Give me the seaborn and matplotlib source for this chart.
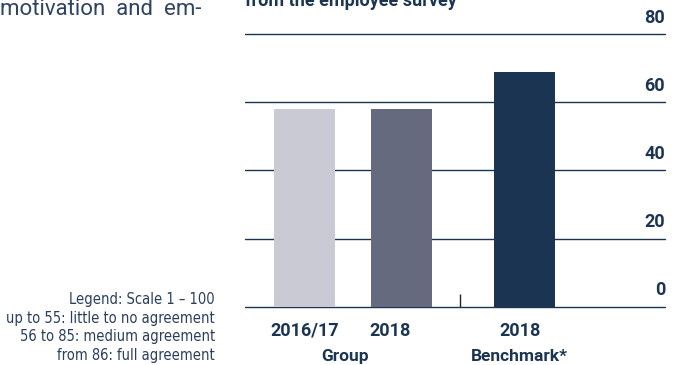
import matplotlib
matplotlib.use("Agg")
import matplotlib.pyplot as plt
from matplotlib import font_manager
import seaborn as sns
import pandas as pd

# Employee survey results (scale 1-100)
bar_keys = ["Group 2016/17", "Group 2018", "Benchmark 2018"]
values = [58, 58, 69]
year_labels = ["2016/17", "2018", "2018"]
group_labels = ["Group", "Benchmark*"]
y_ticks = [0, 20, 40, 60, 80]
legend_lines = [
    "Legend: Scale 1 – 100",
    "up to 55: little to no agreement",
    "56 to 85: medium agreement",
    "from 86: full agreement",
]
intro_text = "motivation  and  em-"
title_text = "from the employee survey"

NAVY = "#1b3451"
colors = ["#c9cad3", "#656a7f", "#1b3451"]

# horizontal layout of the bars (Benchmark sits apart from the Group pair)
bar_pos = [0.0, 1.0, 2.27]

df = pd.DataFrame({"pos": bar_pos, "key": bar_keys, "value": values})

sns.set_theme(style="white")
plt.rcParams["font.family"] = ["Roboto", "DejaVu Sans"]

fig = plt.figure(figsize=(6.8, 3.65), dpi=100)
ax = fig.add_axes([245 / 680, 58.5 / 365, 420 / 680, 272 / 365])

sns.barplot(data=df, x="pos", y="value", hue="key", palette=colors,
            native_scale=True, dodge=False, width=0.63, legend=False,
            saturation=1, ax=ax, errorbar=None, linewidth=0)

ax.set_xlim(-0.613, 3.716)
ax.set_ylim(0, 80)
ax.set_yticks(y_ticks)
ax.set_yticklabels([])
ax.tick_params(axis="y", length=0)
ax.yaxis.grid(True, color=NAVY, linewidth=1.0)
ax.set_axisbelow(True)
for gl in ax.get_ygridlines():
    gl.set_clip_on(False)
for s in ax.spines.values():
    s.set_visible(False)
ax.set_xlabel("")
ax.set_ylabel("")

# small separator tick between Group and Benchmark
ax.set_xticks([1.603])
ax.set_xticklabels([""])
ax.tick_params(axis="x", direction="in", length=9.4, width=1.0,
               color="#222222", bottom=True)

# y value labels sit above their gridlines, right-aligned
for v in y_ticks:
    ax.annotate(str(v), xy=(1.0, v), xycoords=("axes fraction", "data"),
                xytext=(0, 8), textcoords="offset points",
                ha="right", va="baseline", fontsize=13, fontweight="bold",
                color=NAVY, annotation_clip=False)

# category labels under the bars
year_x = [0.0, 0.88, 2.22]
for x, lab in zip(year_x, year_labels):
    ax.annotate(lab, xy=(x, 0), xycoords=("data", "axes fraction"),
                xytext=(0, -21.2), textcoords="offset points",
                ha="center", va="baseline", fontsize=13, fontweight="bold",
                color=NAVY, annotation_clip=False)
group_x = [0.42, 2.22]
for x, lab in zip(group_x, group_labels):
    ax.annotate(lab, xy=(x, 0), xycoords=("data", "axes fraction"),
                xytext=(0, -39.2), textcoords="offset points",
                ha="center", va="baseline", fontsize=12.5, fontweight="bold",
                color=NAVY, annotation_clip=False)

# surrounding page text
fig.text(0 / 680, 1 - 15 / 365, intro_text, ha="left", va="baseline",
         fontsize=16, color="#2f4461")
fig.text(245 / 680, 1 - 5.5 / 365, title_text, ha="left", va="baseline",
         fontsize=13, fontweight="bold", color=NAVY)

# scale legend, right-aligned narrow text
narrow = font_manager.FontProperties(family="DejaVu Sans", stretch="condensed",
                                     size=10.5)
try:
    font_manager.findfont(font_manager.FontProperties(family="Liberation Sans Narrow"),
                          fallback_to_default=False)
    narrow = font_manager.FontProperties(family="Liberation Sans Narrow", size=11.2)
except ValueError:
    pass
for i, line in enumerate(legend_lines):
    fig.text(215 / 680, 1 - (304 + i * 18.7) / 365, line, ha="right",
             va="baseline", color="#2a3f5c", fontproperties=narrow)

fig.savefig("out.png", dpi=100)
